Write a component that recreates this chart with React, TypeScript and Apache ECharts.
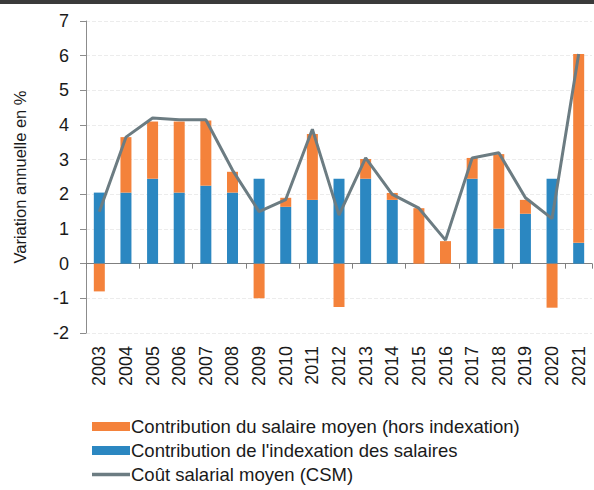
import React, { useEffect, useRef } from "react";
import * as echarts from "echarts";

const years = ["2003","2004","2005","2006","2007","2008","2009","2010","2011","2012","2013","2014","2015","2016","2017","2018","2019","2020","2021"];
const indexation = [2.05, 2.05, 2.45, 2.05, 2.25, 2.05, 2.45, 1.64, 1.84, 2.45, 2.45, 1.84, 0, 0, 2.45, 1.01, 1.44, 2.45, 0.6];
const salaireMoyen = [-0.8, 1.6, 1.65, 2.05, 1.88, 0.6, -1.0, 0.26, 1.9, -1.25, 0.57, 0.2, 1.6, 0.65, 0.6, 2.15, 0.4, -1.27, 5.45];
const csm = [1.5, 3.65, 4.2, 4.15, 4.15, 2.7, 1.5, 1.85, 3.88, 1.4, 3.05, 2.0, 1.6, 0.68, 3.05, 3.2, 1.9, 1.3, 6.05];
const yTicks = [-2, -1, 0, 1, 2, 3, 4, 5, 6, 7];

const nameOrange = "Contribution du salaire moyen (hors indexation)";
const nameBlue = "Contribution de l'indexation des salaires";
const nameLine = "Coût salarial moyen (CSM)";

export default function App() {
  const ref = useRef<HTMLDivElement>(null);
  useEffect(() => {
    if (!ref.current) return;
    const chart = echarts.init(ref.current, null, { renderer: "svg" });
    const font = "'Liberation Sans', Arial, sans-serif";
    chart.setOption({
      animation: false,
      backgroundColor: "#ffffff",
      textStyle: { fontFamily: font },
      graphic: [
        { type: "rect", shape: { x: 0, y: 0, width: 594, height: 4 }, style: { fill: "#3a3a3a" } },
      ],
      grid: { left: 86, right: 2, top: 21, bottom: 157, containLabel: false },
      legend: {
        orient: "vertical",
        left: 92,
        top: 417,
        padding: 0,
        itemWidth: 38,
        itemHeight: 9,
        itemGap: 5,
        data: [
          { name: nameOrange, icon: "rect" },
          { name: nameBlue, icon: "rect" },
          { name: nameLine, icon: "path://M0,0H38V3.5H0Z" },
        ],
        textStyle: { fontSize: 18.5, color: "#1a1a1a", fontFamily: font, padding: [0, 0, 0, -4] },
      },
      xAxis: [
        {
          type: "category",
          data: years,
          position: "bottom",
          axisLine: { show: false, onZero: false },
          axisTick: { show: false },
          axisLabel: { rotate: 90, fontSize: 18, color: "#1a1a1a", margin: 13, fontFamily: font },
          splitLine: { show: false },
        },
        {
          type: "category",
          data: years,
          position: "bottom",
          axisLine: { show: true, onZero: true, lineStyle: { color: "#7f7f7f", width: 1 } },
          axisTick: { show: true, length: 5, lineStyle: { color: "#7f7f7f" } },
          axisLabel: { show: false },
          splitLine: { show: false },
        },
      ],
      yAxis: {
        type: "value",
        min: yTicks[0],
        max: yTicks[yTicks.length - 1],
        interval: 1,
        name: "Variation annuelle en %",
        nameLocation: "middle",
        nameGap: 58,
        nameTextStyle: { fontSize: 16.5, color: "#1a1a1a", fontFamily: font },
        axisLine: { show: true, lineStyle: { color: "#8c8c8c" } },
        axisTick: { show: true, length: 6, lineStyle: { color: "#8c8c8c" } },
        axisLabel: { fontSize: 18, color: "#1a1a1a", margin: 17, fontFamily: font },
        splitLine: { show: true, lineStyle: { color: "#ececec", type: "dashed" } },
      },
      series: [
        {
          name: nameBlue,
          type: "bar",
          stack: "c",
          data: indexation,
          barWidth: 11,
          itemStyle: { color: "#2b87c1" },
        },
        {
          name: nameOrange,
          type: "bar",
          stack: "c",
          data: salaireMoyen,
          barWidth: 11,
          itemStyle: { color: "#f4823b" },
        },
        {
          name: nameLine,
          type: "line",
          data: csm,
          symbol: "none",
          lineStyle: { color: "#6c7c82", width: 3 },
          itemStyle: { color: "#6c7c82" },
          z: 5,
        },
      ],
    });
    return () => chart.dispose();
  }, []);
  return <div ref={ref} style={{ position: "fixed", left: 0, top: 0, width: 594, height: 490 }} />;
}
